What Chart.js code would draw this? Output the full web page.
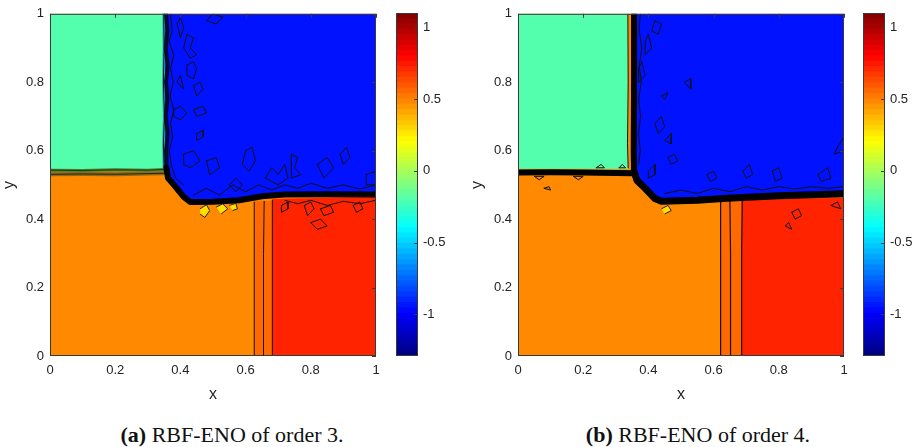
<!DOCTYPE html>
<html>
<head>
<meta charset="utf-8">
<script src="https://cdn.jsdelivr.net/npm/chart.js@4/dist/chart.umd.min.js"></script>
<style>
  body { margin: 0; background: #fff; width: 918px; height: 447px; position: relative; overflow: hidden; }
  canvas { position: absolute; top: 0; }
  .cap { position: absolute; top: 422px; font-family: "Liberation Serif", "DejaVu Serif", serif; font-size: 22px; color: #111; white-space: nowrap; transform: translateX(-50%); }
</style>
</head>
<body>
<canvas id="plotA" width="392" height="405" style="left:0px"></canvas>
<canvas id="barA" width="80" height="405" style="left:380px"></canvas>
<canvas id="plotB" width="392" height="405" style="left:468px"></canvas>
<canvas id="barB" width="71" height="405" style="left:847px"></canvas>
<div class="cap" style="left:232px"><b>(a)</b> RBF-ENO of order 3.</div>
<div class="cap" style="left:698px"><b>(b)</b> RBF-ENO of order 4.</div>
<script>
// colour scale
const cbarMin = -1.29;
const cbarMax = 1.1;
const cbarTicks = [-1, -0.5, 0, 0.5, 1];
const cbarLevels = 64;
const axisTicks = [0, 0.2, 0.4, 0.6, 0.8, 1];

// states of the four quadrants (value on the colour scale)
const valueLeft = -0.2;
const valueUpper = -0.95;
const valueLower = 0.48;
const valueStrip = 0.555;
const valueRight = 0.72;
const valueSpot = 0.28;

// ---- panel (a): order 3 ----
const a_square = [[0,0],[1,0],[1,1],[0,1]];
const a_green = [[0,0.545],[0.346,0.545],[0.346,1],[0,1]];
const a_blue = [[0.35,1],[0.35,0.54],[0.37,0.505],[0.40,0.47],[0.43,0.447],[0.5,0.447],[0.58,0.452],[0.65,0.464],[0.72,0.47],[1,0.472],[1,1]];
const a_strip = [[0.627,0],[0.683,0],[0.683,0.452],[0.627,0.452]];
const a_red = [[0.683,0],[1,0],[1,0.466],[0.683,0.458]];
const a_band = [[0,0.531],[0.1,0.532],[0.2,0.531],[0.3,0.533],[0.35,0.534]];
const a_bandTop = [[0,0.543],[0.1,0.542],[0.2,0.544],[0.3,0.543],[0.346,0.545]];
const a_edge = [[0.349,1],[0.35,0.9],[0.348,0.8],[0.351,0.7],[0.348,0.62],[0.35,0.55]];
const a_shockV = [[0.356,1],[0.36,0.95],[0.355,0.9],[0.361,0.85],[0.356,0.8],[0.36,0.75],[0.355,0.7],[0.361,0.65],[0.356,0.6],[0.357,0.55]];
const a_shockH = [[0.357,0.55],[0.362,0.52],[0.38,0.50],[0.41,0.465],[0.43,0.45],[0.5,0.451],[0.58,0.455],[0.65,0.467],[0.72,0.472],[0.85,0.473],[1,0.472]];
const a_ragged = [
  [[0.37,1],[0.375,0.95],[0.365,0.92],[0.38,0.88],[0.37,0.84],[0.378,0.8],[0.368,0.76],[0.38,0.72],[0.37,0.68],[0.376,0.64],[0.366,0.6],[0.372,0.56],[0.385,0.52],[0.41,0.5]],
  [[0.44,0.47],[0.48,0.49],[0.52,0.47],[0.56,0.5],[0.6,0.48],[0.64,0.5],[0.68,0.485],[0.72,0.5],[0.76,0.49],[0.8,0.505],[0.85,0.49],[0.9,0.5],[0.95,0.488],[1,0.5]],
  [[0.72,0.455],[0.76,0.445],[0.8,0.455],[0.85,0.44],[0.9,0.452],[0.95,0.445],[1,0.455]]
];
const a_contours = [
  [[0.627,0],[0.627,0.3],[0.626,0.45]],
  [[0.655,0],[0.655,0.3],[0.657,0.452]],
  [[0.683,0],[0.683,0.3],[0.681,0.456]]
];
const a_spots = [
  [[0.46,0.43],[0.48,0.442],[0.49,0.425],[0.475,0.405],[0.46,0.415]],
  [[0.51,0.435],[0.53,0.445],[0.545,0.43],[0.525,0.415]],
  [[0.55,0.44],[0.57,0.446],[0.575,0.43],[0.56,0.425]]
];
const a_islands = [
  [[0.42,0.94],[0.44,0.93],[0.43,0.90],[0.45,0.88],[0.43,0.87],[0.41,0.90]],
  [[0.42,0.85],[0.44,0.86],[0.45,0.84],[0.44,0.81],[0.42,0.82]],
  [[0.44,0.79],[0.46,0.80],[0.47,0.78],[0.45,0.76]],
  [[0.38,0.72],[0.40,0.73],[0.42,0.71],[0.40,0.69],[0.38,0.70]],
  [[0.44,0.72],[0.47,0.73],[0.48,0.71],[0.45,0.70]],
  [[0.45,0.65],[0.47,0.66],[0.47,0.64],[0.45,0.63]],
  [[0.41,0.59],[0.44,0.60],[0.46,0.57],[0.43,0.55],[0.41,0.56]],
  [[0.48,0.57],[0.51,0.58],[0.52,0.55],[0.49,0.53]],
  [[0.60,0.60],[0.62,0.61],[0.63,0.57],[0.61,0.54],[0.59,0.56]],
  [[0.66,0.52],[0.68,0.55],[0.70,0.53],[0.72,0.56],[0.73,0.52],[0.70,0.50]],
  [[0.74,0.59],[0.76,0.58],[0.75,0.55],[0.77,0.53],[0.74,0.52]],
  [[0.82,0.56],[0.85,0.58],[0.87,0.55],[0.84,0.52]],
  [[0.89,0.59],[0.91,0.61],[0.92,0.58],[0.90,0.56]],
  [[0.97,0.53],[1.0,0.54],[1.0,0.50],[0.97,0.50]],
  [[0.48,0.98],[0.50,1.0],[0.53,0.99],[0.51,0.97]],
  [[0.39,0.97],[0.40,0.99],[0.41,0.96],[0.40,0.93]],
  [[0.39,0.80],[0.40,0.82],[0.41,0.78]],
  [[0.55,0.50],[0.57,0.52],[0.59,0.50],[0.57,0.48]],
  [[0.71,0.44],[0.73,0.45],[0.73,0.43],[0.71,0.42]],
  [[0.78,0.44],[0.80,0.45],[0.81,0.43],[0.79,0.41]],
  [[0.83,0.43],[0.86,0.44],[0.87,0.42],[0.84,0.41]],
  [[0.80,0.39],[0.83,0.40],[0.85,0.38],[0.82,0.37]],
  [[0.93,0.44],[0.95,0.45],[0.96,0.43],[0.94,0.42]]
];

// ---- panel (b): order 4 ----
const b_square = [[0,0],[1,0],[1,1],[0,1]];
const b_green = [[0,0.547],[0.337,0.547],[0.337,1],[0,1]];
const b_blue = [[0.355,1],[0.355,0.535],[0.38,0.50],[0.41,0.47],[0.435,0.448],[0.55,0.452],[0.64,0.46],[0.8,0.468],[1,0.474],[1,1]];
const b_strip = [[0.622,0],[0.686,0],[0.686,0.455],[0.622,0.455]];
const b_red = [[0.686,0],[1,0],[1,0.462],[0.686,0.458]];
const b_edge = [[0.337,1],[0.338,0.8],[0.336,0.62],[0.338,0.55]];
const b_shockL = [[0,0.536],[0.1,0.537],[0.2,0.536],[0.3,0.535],[0.355,0.534]];
const b_shockV = [[0.356,1],[0.356,0.8],[0.355,0.6],[0.356,0.54]];
const b_shockH = [[0.356,0.54],[0.365,0.513],[0.39,0.49],[0.42,0.46],[0.44,0.452],[0.55,0.455],[0.64,0.461],[0.8,0.468],[1,0.474]];
const b_ragged = [
  [[0.375,1],[0.372,0.95],[0.38,0.9],[0.372,0.85],[0.378,0.8],[0.37,0.75],[0.376,0.7],[0.37,0.65],[0.375,0.6],[0.37,0.56]],
  [[0.45,0.475],[0.5,0.485],[0.55,0.475],[0.6,0.49],[0.65,0.48],[0.7,0.495],[0.75,0.485],[0.8,0.495],[0.85,0.488],[0.9,0.495],[0.95,0.49],[1,0.495]]
];
const b_contours = [
  [[0.621,0],[0.621,0.3],[0.622,0.455]],
  [[0.651,0],[0.652,0.3],[0.65,0.455]],
  [[0.685,0],[0.686,0.3],[0.688,0.457]]
];
const b_spots = [
  [[0.44,0.43],[0.46,0.44],[0.47,0.425],[0.45,0.415]]
];
const b_islands = [
  [[0.42,0.98],[0.44,0.97],[0.43,0.94],[0.41,0.95]],
  [[0.39,0.92],[0.40,0.94],[0.41,0.90],[0.39,0.88]],
  [[0.37,0.84],[0.38,0.86],[0.39,0.82],[0.37,0.80]],
  [[0.44,0.76],[0.46,0.77],[0.45,0.75]],
  [[0.42,0.68],[0.44,0.70],[0.45,0.67],[0.43,0.65]],
  [[0.46,0.64],[0.47,0.65],[0.47,0.62],[0.45,0.63]],
  [[0.40,0.54],[0.42,0.56],[0.42,0.53],[0.40,0.52]],
  [[0.51,0.80],[0.53,0.81],[0.53,0.78]],
  [[0.46,0.58],[0.48,0.59],[0.49,0.57],[0.47,0.56]],
  [[0.58,0.53],[0.60,0.54],[0.61,0.52],[0.59,0.51]],
  [[0.69,0.54],[0.71,0.56],[0.72,0.53],[0.70,0.52]],
  [[0.78,0.54],[0.80,0.55],[0.81,0.52],[0.79,0.51]],
  [[0.92,0.53],[0.95,0.55],[0.96,0.52],[0.93,0.51]],
  [[0.98,0.61],[1.0,0.64],[1.0,0.60],[0.97,0.59]],
  [[0.84,0.42],[0.86,0.43],[0.87,0.41],[0.85,0.40]],
  [[0.82,0.38],[0.83,0.39],[0.84,0.37]],
  [[0.96,0.44],[0.98,0.45],[0.99,0.43]],
  [[0.05,0.525],[0.08,0.525],[0.065,0.515]],
  [[0.17,0.525],[0.2,0.525],[0.185,0.515]],
  [[0.08,0.49],[0.095,0.495],[0.1,0.485]],
  [[0.24,0.55],[0.255,0.56],[0.265,0.55]],
  [[0.31,0.55],[0.32,0.56],[0.33,0.55]]
];

// jet colour map
function jet(v) {
  const t = (v - cbarMin) / (cbarMax - cbarMin);
  const c = u => Math.round(255 * Math.max(0, Math.min(1, u)));
  return `rgb(${c(Math.min(4*t-1.5, -4*t+4.5))},${c(Math.min(4*t-0.5, -4*t+3.5))},${c(Math.min(4*t+0.5, -4*t+2.5))})`;
}

function area(pts, color, edge) {
  return { data: pts.map(([x, y]) => ({x, y})), fill: 'shape', backgroundColor: color,
           borderColor: edge || color, borderWidth: edge ? 1 : 0.5, pointRadius: 0, tension: 0 };
}
function line(pts, color, width, closed) {
  const p = closed ? pts.concat([pts[0]]) : pts;
  return { data: p.map(([x, y]) => ({x, y})), fill: false, borderColor: color,
           borderWidth: width, pointRadius: 0, tension: 0, borderJoinStyle: 'round', borderCapStyle: 'round' };
}

const frame = {
  id: 'frame',
  afterDraw(c) {
    const a = c.chartArea, ctx = c.ctx;
    ctx.save();
    ctx.strokeStyle = '#3a3a3a';
    ctx.lineWidth = 1;
    ctx.strokeRect(a.left + 0.5, a.top + 0.5, a.width - 1, a.height - 1);
    const sx = c.scales.x, sy = c.scales.y;
    if (sx.type === 'linear') {
      axisTicks.forEach(v => {
        const px = Math.round(sx.getPixelForValue(v)) + 0.5;
        const py = Math.round(sy.getPixelForValue(v)) + 0.5;
        ctx.beginPath();
        ctx.moveTo(px, a.top); ctx.lineTo(px, a.top + 4);
        ctx.moveTo(a.right, py); ctx.lineTo(a.right - 4, py);
        ctx.stroke();
      });
    } else {
      cbarTicks.forEach(v => {
        const py = Math.round(sy.getPixelForValue(v)) + 0.5;
        ctx.beginPath();
        ctx.moveTo(a.right, py); ctx.lineTo(a.right - 4, py);
        ctx.stroke();
      });
    }
    ctx.restore();
  }
};

const tickFont = { family: 'Liberation Sans, Arial, sans-serif', size: 13 };
const tickLabel = v => String(v);
const noGrid = { display: false, drawTicks: false, tickLength: 0 };

function plot(id, layers) {
  new Chart(document.getElementById(id), {
    type: 'line',
    data: { datasets: layers.slice().reverse() },
    options: {
      responsive: false, animation: false, devicePixelRatio: 1,
      layout: { padding: { top: 13, right: 16, left: 0, bottom: 0 } },
      plugins: { legend: { display: false }, tooltip: { enabled: false } },
      scales: {
        x: {
          type: 'linear', min: 0, max: 1,
          afterBuildTicks: s => { s.ticks = axisTicks.map(v => ({value: v})); },
          afterFit: s => { s.height = 49; },
          grid: noGrid, border: { display: false },
          ticks: { font: tickFont, color: '#222', padding: 7, maxRotation: 0, callback: tickLabel },
          title: { display: true, text: 'x', font: { family: 'Liberation Sans, Arial, sans-serif', size: 16 }, color: '#222', padding: { top: 0, bottom: 1 } }
        },
        y: {
          type: 'linear', min: 0, max: 1,
          afterBuildTicks: s => { s.ticks = axisTicks.map(v => ({value: v})); },
          afterFit: s => { s.width = 50; },
          grid: noGrid, border: { display: false },
          ticks: { font: tickFont, color: '#222', padding: 6, callback: tickLabel },
          title: { display: true, text: 'y', font: { family: 'Liberation Sans, Arial, sans-serif', size: 16 }, color: '#222', padding: { top: 0, bottom: 4 } }
        }
      }
    },
    plugins: [frame]
  });
}

function colorbar(id, rightWidth) {
  const step = (cbarMax - cbarMin) / cbarLevels;
  const sets = [];
  for (let i = 0; i < cbarLevels; i++) {
    const lo = cbarMin + i * step;
    sets.push({ data: [[lo, lo + step * 1.02]], backgroundColor: jet(lo + step / 2),
                barPercentage: 1, categoryPercentage: 1, grouped: false, borderWidth: 0 });
  }
  new Chart(document.getElementById(id), {
    type: 'bar',
    data: { labels: ['c'], datasets: sets },
    options: {
      responsive: false, animation: false, devicePixelRatio: 1,
      layout: { padding: { top: 13, left: 16, right: 0, bottom: 49 } },
      plugins: { legend: { display: false }, tooltip: { enabled: false } },
      scales: {
        x: { display: false },
        y: {
          position: 'right', min: cbarMin, max: cbarMax,
          afterBuildTicks: s => { s.ticks = cbarTicks.map(v => ({value: v})); },
          afterFit: s => { s.width = rightWidth; },
          grid: noGrid, border: { display: false },
          ticks: { font: tickFont, color: '#222', padding: 5, callback: tickLabel }
        }
      }
    },
    plugins: [frame]
  });
}

const cGreen = jet(valueLeft), cBlue = jet(valueUpper), cOrange = jet(valueLower);
const cStrip = jet(valueStrip), cRed = jet(valueRight), cSpot = jet(valueSpot);

plot('plotA', [
  area(a_square, cOrange),
  area(a_strip, cStrip),
  area(a_red, cRed),
  area(a_green, cGreen),
  line(a_band, '#8a6a12', 4),
  line(a_band, '#222', 1),
  line(a_bandTop, '#4a7a2a', 3),
  line(a_bandTop, '#1a3a1a', 1),
  area(a_blue, cBlue),
  ...a_spots.map(s => area(s, cSpot, '#222')),
  ...a_contours.map(s => line(s, '#111', 1)),
  ...a_ragged.map(s => line(s, '#111', 1)),
  ...a_islands.map(s => line(s, '#111', 1, true)),
  line(a_edge, '#1fb8c8', 3),
  line(a_edge, '#111', 1),
  line(a_shockV, '#0a0a30', 4),
  line(a_shockH, '#000', 6)
]);

plot('plotB', [
  area(b_square, cOrange),
  area(b_strip, cStrip),
  area(b_red, cRed),
  area(b_green, cGreen),
  area(b_blue, cBlue),
  ...b_spots.map(s => area(s, cSpot, '#222')),
  ...b_contours.map(s => line(s, '#111', 1.2)),
  ...b_ragged.map(s => line(s, '#111', 1)),
  ...b_islands.map(s => line(s, '#111', 1, true)),
  line(b_edge, '#111', 1),
  line(b_shockL, '#000', 6),
  line(b_shockV, '#000', 6),
  line(b_shockH, '#000', 7)
]);

colorbar('barA', 42);
colorbar('barB', 33);
</script>
</body>
</html>
